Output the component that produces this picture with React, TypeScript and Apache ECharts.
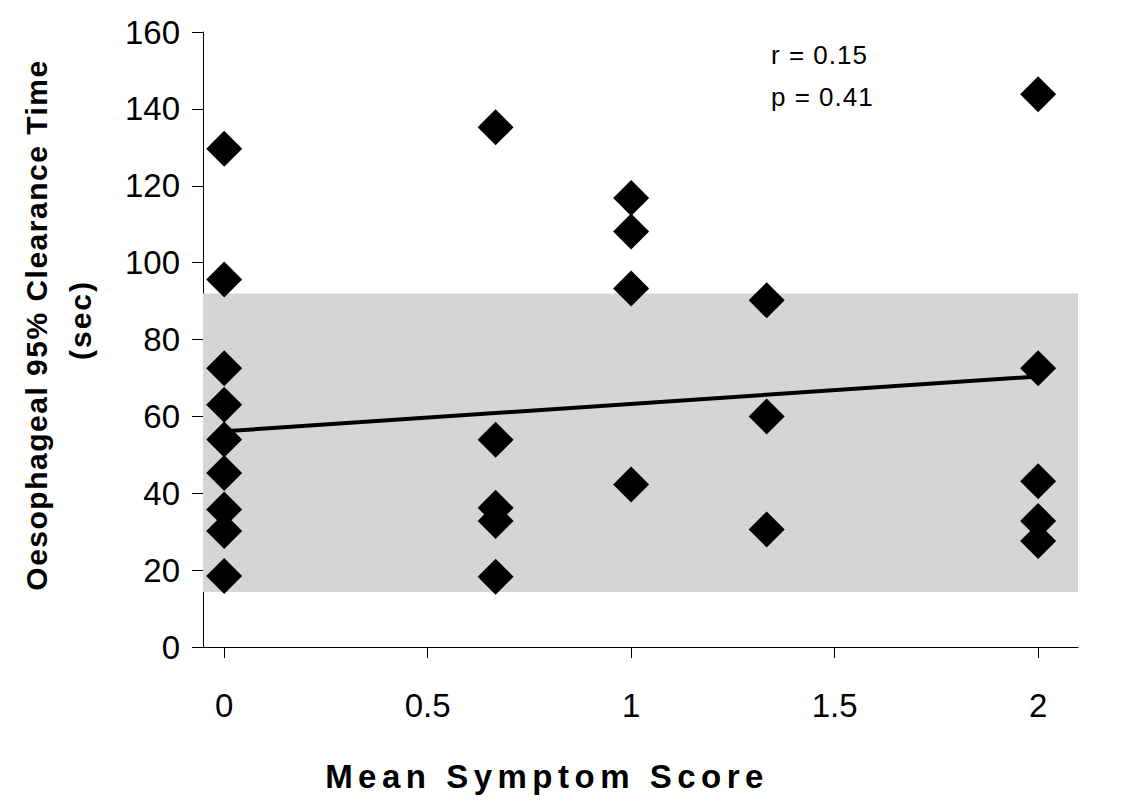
import React, { useEffect, useRef } from "react";
import * as echarts from "echarts";

// Mean symptom score (x) and oesophageal 95% clearance time in sec (y)
const symptomScore = [
  0, 0, 0, 0, 0, 0, 0, 0, 0,
  0.667, 0.667, 0.667, 0.667, 0.667,
  1, 1, 1, 1,
  1.333, 1.333, 1.333,
  2, 2, 2, 2, 2,
];
const clearanceTime = [
  129.6, 95.6, 72.5, 63.0, 54.0, 45.3, 35.8, 30.2, 18.5,
  135.2, 53.9, 36.2, 32.8, 18.3,
  116.8, 108.1, 93.3, 42.3,
  90.2, 60.0, 30.6,
  143.8, 72.5, 43.1, 32.8, 27.6,
];
// Regression line end points
const fitX = [0, 2];
const fitY = [56.1, 70.4];
// Normal range band (sec)
const normalRange = [14.3, 92];
// Axis ticks
const xTickValues = [0, 0.5, 1, 1.5, 2];
const yMin = 0;
const yMax = 160;
const yInterval = 20;
const statsLines = ["r = 0.15", "p = 0.41"];
const xTitle = "Mean Symptom Score";
const yTitle1 = "Oesophageal 95% Clearance Time";
const yTitle2 = "(sec)";

const FONT = "'Liberation Sans', Arial, Helvetica, sans-serif";

export default function App() {
  const ref = useRef<HTMLDivElement>(null);

  useEffect(() => {
    document.body.style.margin = "0";
    const el = ref.current!;
    const chart = echarts.init(el, null, { renderer: "svg" });

    const points = symptomScore.map((x, i) => [x, clearanceTime[i]]);
    const fitLine = fitX.map((x, i) => [x, fitY[i]]);

    chart.setOption({
      animation: false,
      backgroundColor: "#ffffff",
      grid: { left: 203, top: 32, width: 875, height: 615 },
      xAxis: {
        type: "value",
        min: -0.052,
        max: 2.098,
        axisLine: { show: true, onZero: false, lineStyle: { color: "#000", width: 1 } },
        axisTick: {
          show: true,
          length: 11,
          customValues: xTickValues,
          lineStyle: { color: "#000", width: 1 },
        },
        axisLabel: {
          customValues: xTickValues,
          color: "#000",
          fontSize: 33,
          fontFamily: FONT,
          margin: 42,
        },
        splitLine: { show: false },
      },
      yAxis: {
        type: "value",
        min: yMin,
        max: yMax,
        interval: yInterval,
        axisLine: { show: true, onZero: false, lineStyle: { color: "#000", width: 1 } },
        axisTick: { show: true, length: 11, lineStyle: { color: "#000", width: 1 } },
        axisLabel: {
          color: "#000",
          fontSize: 33,
          fontFamily: FONT,
          margin: 23,
        },
        splitLine: { show: false },
      },
      series: [
        {
          type: "line",
          data: [],
          z: 1,
          silent: true,
          markArea: {
            silent: true,
            itemStyle: { color: "#d5d4d7", opacity: 1 },
            data: [[{ yAxis: normalRange[0] }, { yAxis: normalRange[1] }]],
          },
        },
        {
          type: "line",
          data: fitLine,
          z: 2,
          symbol: "none",
          silent: true,
          lineStyle: { color: "#000", width: 4 },
        },
        {
          type: "scatter",
          data: points,
          z: 3,
          symbol: "diamond",
          symbolSize: 36,
          itemStyle: { color: "#000", opacity: 1 },
        },
      ],
      graphic: [
        {
          type: "text",
          x: 36,
          y: 325,
          rotation: Math.PI / 2,
          style: {
            text: yTitle1,
            font: `bold 30px ${FONT}`,
            fill: "#000",
            align: "center",
            verticalAlign: "middle",
            textAlign: "center",
            textVerticalAlign: "middle",
          },
        },
        {
          type: "text",
          x: 80,
          y: 320,
          rotation: Math.PI / 2,
          style: {
            text: yTitle2,
            font: `bold 30px ${FONT}`,
            fill: "#000",
            align: "center",
            verticalAlign: "middle",
            textAlign: "center",
            textVerticalAlign: "middle",
          },
        },
        {
          type: "text",
          x: 547,
          y: 776,
          style: {
            text: xTitle,
            font: `bold 33px ${FONT}`,
            fill: "#000",
            align: "center",
            verticalAlign: "middle",
            textAlign: "center",
            textVerticalAlign: "middle",
          },
        },
        {
          type: "text",
          x: 771,
          y: 55,
          style: {
            text: statsLines[0],
            font: `26px ${FONT}`,
            fill: "#000",
            align: "left",
            verticalAlign: "middle",
            textAlign: "left",
            textVerticalAlign: "middle",
          },
        },
        {
          type: "text",
          x: 771,
          y: 97,
          style: {
            text: statsLines[1],
            font: `26px ${FONT}`,
            fill: "#000",
            align: "left",
            verticalAlign: "middle",
            textAlign: "left",
            textVerticalAlign: "middle",
          },
        },
      ],
    });

    const applySpacing = () => {
      el.querySelectorAll("text").forEach((t) => {
        const s = t.textContent;
        if (s === xTitle) t.setAttribute("letter-spacing", "5.5");
        else if (s === yTitle1) t.setAttribute("letter-spacing", "1.5");
        else if (s === yTitle2) t.setAttribute("letter-spacing", "2");
        else if (s === statsLines[0] || s === statsLines[1]) t.setAttribute("letter-spacing", "1");
      });
    };
    applySpacing();
    chart.on("finished", applySpacing);
    const timer = setTimeout(applySpacing, 50);

    return () => {
      clearTimeout(timer);
      chart.dispose();
    };
  }, []);

  return (
    <div
      ref={ref}
      style={{ position: "fixed", left: 0, top: 0, width: 1128, height: 808 }}
    />
  );
}
